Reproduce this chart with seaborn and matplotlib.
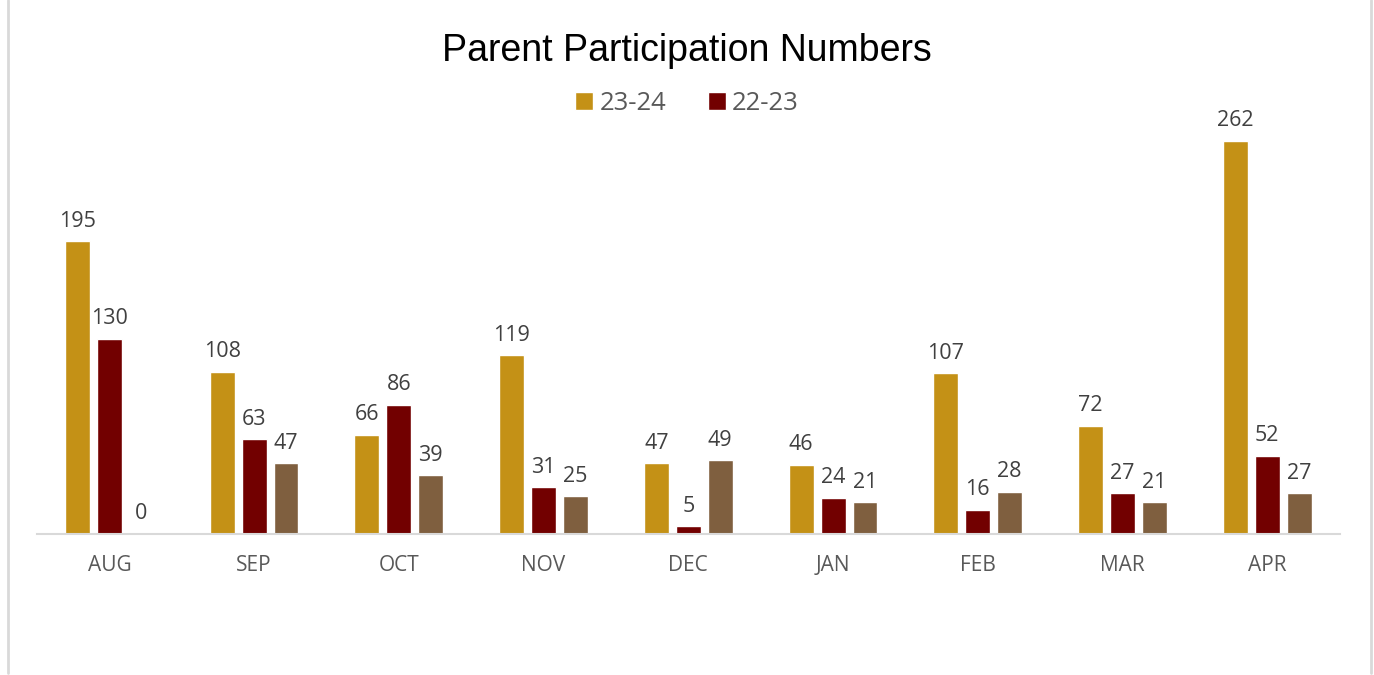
import pandas as pd
import matplotlib.pyplot as plt
import seaborn as sns
from matplotlib.lines import Line2D
from matplotlib.patches import Patch

months = ['AUG', 'SEP', 'OCT', 'NOV', 'DEC', 'JAN', 'FEB', 'MAR', 'APR']
vals_2324 = [195, 108, 66, 119, 47, 46, 107, 72, 262]
vals_2223 = [130, 63, 86, 31, 5, 24, 16, 27, 52]
vals_other = [0, 47, 39, 25, 49, 21, 28, 21, 27]
series = ['23-24', '22-23', ' ']
colors = ['#C49116', '#720000', '#7F5F3F']

rows = []
for name, vals in zip(series, [vals_2324, vals_2223, vals_other]):
    for m, v in zip(months, vals):
        rows.append({'Month': m, 'Series': name, 'Value': v})
df = pd.DataFrame(rows)

sns.set_theme(style="white")
plt.rcParams['font.family'] = ['Open Sans', 'DejaVu Sans']

fig = plt.figure(figsize=(13.74, 6.75), dpi=100)
ax = fig.add_axes([0.0269, 0.2089, 0.9481, 0.6667])

sns.barplot(data=df, x='Month', y='Value', hue='Series', order=months,
            hue_order=series, palette=dict(zip(series, colors)),
            width=0.662, gap=0.22, saturation=1, ax=ax, legend=False)

# value labels over each bar
for c in ax.containers:
    ax.bar_label(c, fmt='%d', padding=7, fontsize=15.5, color='#404040')

ax.set_ylim(0, 300)
ax.set_xlim(-0.5, len(months) - 0.5)
ax.set_xlabel('')
ax.set_ylabel('')
ax.set_yticks([])
for s in ['top', 'left', 'right']:
    ax.spines[s].set_visible(False)
ax.spines['bottom'].set_color('#D9D9D9')
ax.spines['bottom'].set_linewidth(1.5)
ax.tick_params(axis='x', length=0, pad=15, labelsize=15, labelcolor='#595959')

fig.text(0.5, 0.925, 'Parent Participation Numbers', ha='center', va='center',
         fontsize=27, family='Liberation Sans', color='black')

# only the first two series appear in the legend
handles = [Patch(facecolor=colors[0]), Patch(facecolor=colors[1])]
fig.legend(handles, series[:2], loc='center', bbox_to_anchor=(0.5, 0.846), ncol=2,
           frameon=False, fontsize=18.5, labelcolor='#595959', handlelength=0.7,
           handleheight=0.7, handletextpad=0.25, columnspacing=1.6)

fig.add_artist(Line2D([8 / 1374, 8 / 1374], [0.003, 1], color='#D9D9D9', lw=2))
fig.add_artist(Line2D([1371 / 1374, 1371 / 1374], [0.003, 1], color='#D9D9D9', lw=2))

fig.savefig('out.png', dpi=100)
